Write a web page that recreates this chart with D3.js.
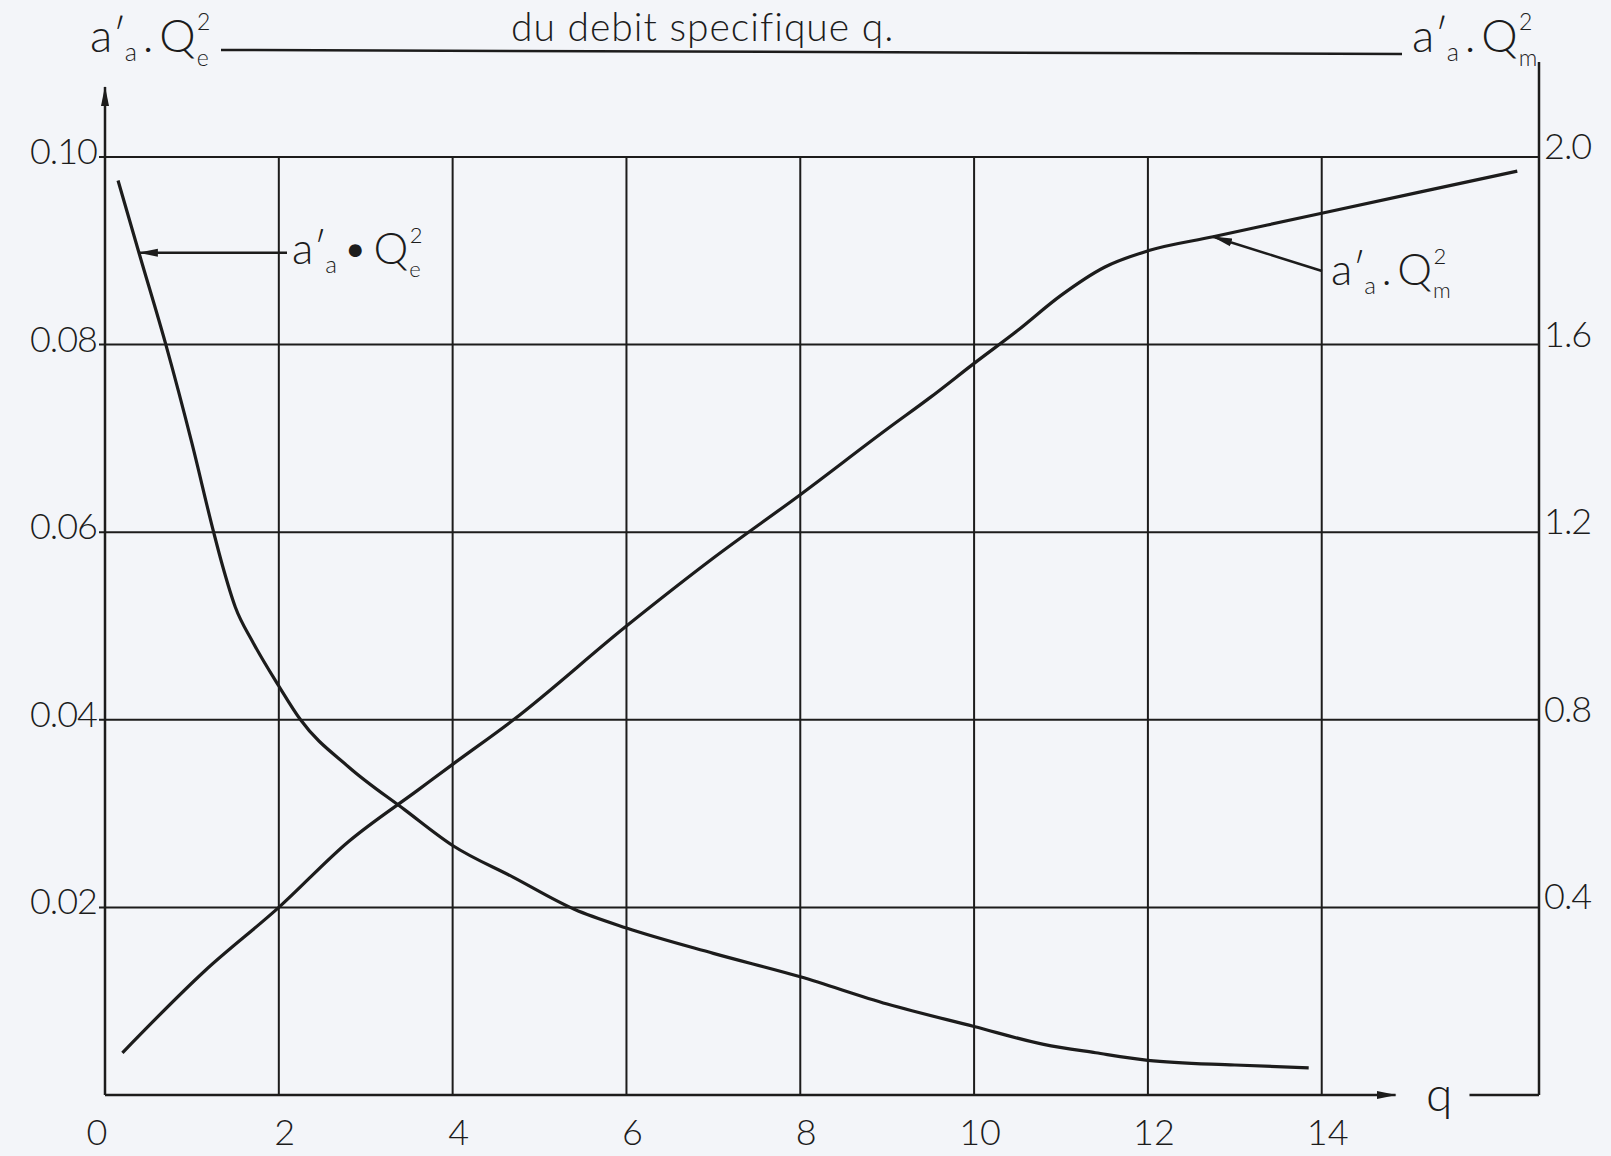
<!DOCTYPE html>
<html>
<head>
<meta charset="utf-8">
<script src="https://cdn.jsdelivr.net/npm/d3@7"></script>
<style>
  html, body { margin: 0; padding: 0; background: #f3f5f9; }
  svg { display: block; }
  text { font-family: "Lato", "Open Sans", "DejaVu Sans", sans-serif; font-weight: 300; fill: #1c1c1c; }
</style>
</head>
<body>
<script>
// q values (debit specifique) and the two curves
var qeQ   = [0.15, 0.4, 0.7, 1.0, 1.25, 1.35, 1.5, 1.7, 2.0, 2.25, 2.8, 3.45, 4.0, 4.7, 5.4, 6.0, 7.0, 8.0, 9.0, 10.0, 10.8, 11.4, 12.0, 13.0, 13.85];
var qeVal = [0.0975, 0.0895, 0.0800, 0.0695, 0.0600, 0.0565, 0.0520, 0.0483, 0.0436, 0.0400, 0.0350, 0.0304, 0.0266, 0.0232, 0.0198, 0.0178, 0.0151, 0.0126, 0.0097, 0.0073, 0.0054, 0.0045, 0.0037, 0.0032, 0.0029];

var qmQ   = [0.2, 1.15, 2.0, 2.8, 3.6, 4.0, 4.7, 6.0, 7.0, 8.0, 9.0, 9.5, 10.0, 10.5, 11.0, 11.5, 12.0, 12.75, 14.0, 16.25];
var qmVal = [0.09, 0.265, 0.40, 0.54, 0.65, 0.705, 0.80, 1.0, 1.145, 1.28, 1.42, 1.488, 1.56, 1.63, 1.705, 1.765, 1.80, 1.83, 1.88, 1.97];

var xTicks      = [0, 2, 4, 6, 8, 10, 12, 14];
var leftTicks   = [0.02, 0.04, 0.06, 0.08, 0.10];
var rightTicks  = [0.4, 0.8, 1.2, 1.6, 2.0];
var title = "du debit specifique q.";

var width = 1611, height = 1156;

var x = d3.scaleLinear().domain([0, 16.5]).range([105, 1539]);
var yL = d3.scaleLinear().domain([0, 0.10]).range([1095, 157]);
var yR = d3.scaleLinear().domain([0, 2.0]).range([1095, 157]);

var svg = d3.select("body").append("svg")
    .attr("width", width)
    .attr("height", height);

svg.append("rect").attr("width", width).attr("height", height).attr("fill", "#f3f5f9");

var ink = "#1c1c1c";

var defs = svg.append("defs");
defs.append("marker")
    .attr("id", "head")
    .attr("viewBox", "0 0 20 10")
    .attr("refX", 19).attr("refY", 5)
    .attr("markerWidth", 20).attr("markerHeight", 10)
    .attr("markerUnits", "userSpaceOnUse")
    .attr("orient", "auto")
    .append("path").attr("d", "M0,1 L20,5 L0,9 Z").attr("fill", ink);

// grid
var grid = svg.append("g").attr("stroke", ink).attr("stroke-width", 2);
grid.selectAll("line.h").data(leftTicks).enter().append("line")
    .attr("class", "h")
    .attr("x1", x(0) - 6).attr("x2", x(16.5))
    .attr("y1", function (d) { return yL(d); })
    .attr("y2", function (d) { return yL(d); });
grid.selectAll("line.v").data(xTicks.slice(1)).enter().append("line")
    .attr("class", "v")
    .attr("x1", function (d) { return x(d); })
    .attr("x2", function (d) { return x(d); })
    .attr("y1", yL(0.10)).attr("y2", yL(0));

// axes frame
svg.append("line").attr("stroke", ink).attr("stroke-width", 2.5)
    .attr("x1", x(0)).attr("x2", x(0)).attr("y1", yL(0)).attr("y2", 87)
    .attr("marker-end", "url(#head)");
svg.append("line").attr("stroke", ink).attr("stroke-width", 2.5)
    .attr("x1", x(0)).attr("x2", x(14.85)).attr("y1", yL(0)).attr("y2", yL(0))
    .attr("marker-end", "url(#head)");
svg.append("line").attr("stroke", ink).attr("stroke-width", 2.5)
    .attr("x1", x(16.5)).attr("x2", x(16.5)).attr("y1", yL(0)).attr("y2", 62);
svg.append("line").attr("stroke", ink).attr("stroke-width", 2.5)
    .attr("x1", x(15.7)).attr("x2", x(16.5)).attr("y1", yL(0)).attr("y2", yL(0));
svg.append("line").attr("stroke", ink).attr("stroke-width", 2.5)
    .attr("x1", 221).attr("x2", 1402).attr("y1", 50).attr("y2", 54);

// tick labels
var fs = 36;
svg.selectAll("text.xt").data(xTicks).enter().append("text")
    .attr("class", "xt")
    .attr("x", function (d) { return x(d) + (d === 0 ? -8 : 6); })
    .attr("y", yL(0) + 50)
    .attr("text-anchor", "middle")
    .attr("font-size", fs)
    .text(function (d) { return d; });
svg.selectAll("text.lt").data(leftTicks).enter().append("text")
    .attr("class", "lt")
    .attr("x", x(0) - 8)
    .attr("y", function (d) { return yL(d) + 7; })
    .attr("text-anchor", "end")
    .attr("font-size", fs)
    .attr("letter-spacing", -1)
    .text(function (d) { return d.toFixed(2); });
svg.selectAll("text.rt").data(rightTicks).enter().append("text")
    .attr("class", "rt")
    .attr("x", x(16.5) + 5)
    .attr("y", function (d) { return yR(d) + 2; })
    .attr("font-size", fs)
    .attr("letter-spacing", -1)
    .text(function (d) { return d.toFixed(1); });

svg.append("text").attr("x", x(15.2)).attr("y", yL(0) + 16)
    .attr("font-size", 48).text("q");

svg.append("text").attr("x", 511).attr("y", 41)
    .attr("font-size", 39).attr("letter-spacing", 1).text(title);

// curves
var lineQe = d3.line()
    .x(function (d, i) { return x(qeQ[i]); })
    .y(function (d) { return yL(d); })
    .curve(d3.curveMonotoneX);
var lineQm = d3.line()
    .x(function (d, i) { return x(qmQ[i]); })
    .y(function (d) { return yR(d); })
    .curve(d3.curveMonotoneX);

svg.append("path").datum(qeVal).attr("d", lineQe)
    .attr("fill", "none").attr("stroke", ink).attr("stroke-width", 3.2);
svg.append("path").datum(qmVal).attr("d", lineQm)
    .attr("fill", "none").attr("stroke", ink).attr("stroke-width", 3.2);

// formula labels: a'a . Q with 2 over the sub letter
function formula(xp, yp, sub, size, dot) {
    var t = svg.append("text").attr("x", xp).attr("y", yp).attr("font-size", size);
    t.append("tspan").text("a\u2032");
    t.append("tspan").attr("font-size", size * 0.55).attr("dx", -size * 0.04).attr("dy", size * 0.2).text("a");
    t.append("tspan").attr("dy", -size * 0.2).text(dot + "Q");
    t.append("tspan").attr("font-size", size * 0.5).attr("dx", size * 0.03).attr("dy", -size * 0.48).text("2");
    t.append("tspan").attr("font-size", size * 0.5).attr("dx", -size * 0.3).attr("dy", size * 0.78).text(sub);
}

formula(90, 52, "e", 46, "\u2009.\u2009");
formula(1412, 52, "m", 46, "\u2009.\u2009");

// annotation arrows pointing at the curves
var qeTip = 0.39, qmTip = 12.75;
svg.append("line").attr("stroke", ink).attr("stroke-width", 2.5)
    .attr("x1", 287).attr("y1", yL(0.0898))
    .attr("x2", x(qeTip)).attr("y2", yL(0.0898))
    .attr("marker-end", "url(#head)");
formula(292, 264, "e", 44, "\u2009\u2022\u2009");

svg.append("line").attr("stroke", ink).attr("stroke-width", 2.5)
    .attr("x1", 1322).attr("y1", 271)
    .attr("x2", x(qmTip)).attr("y2", yR(1.83))
    .attr("marker-end", "url(#head)");
formula(1331, 285, "m", 44, "\u2009.\u2009");
</script>
</body>
</html>
